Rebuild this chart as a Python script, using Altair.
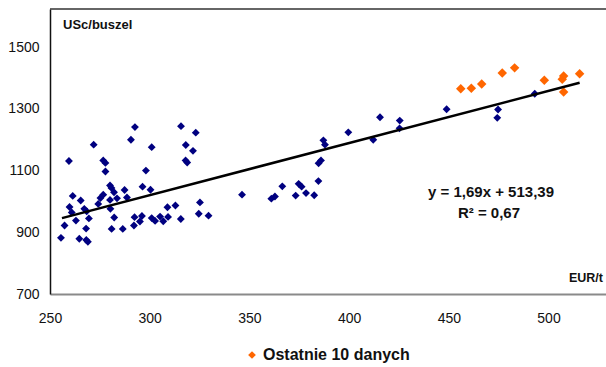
import altair as alt
import pandas as pd

# Historical observations (EUR/t vs USc/buszel)
hist_x = [292.6, 315.7, 323.1, 290.6, 271.9, 301.0, 318.1, 321.7, 259.5, 276.7,
          277.8, 318.0, 318.8, 277.8, 298.1, 280.1, 280.8, 287.4, 296.4, 300.4,
          276.7, 282.1, 275.3, 261.4, 265.4, 280.1, 283.6, 288.6, 274.2, 325.2,
          259.8, 267.2, 268.4, 260.9, 280.3, 269.5, 263.0, 282.2, 308.9, 312.9,
          324.6, 329.5, 257.3, 268.1, 280.9, 286.5, 292.4, 292.1, 295.1, 296.1,
          301.0, 302.7, 305.2, 306.8, 309.2, 315.6, 255.5, 264.7, 268.2, 269.0,
          346.3, 361.0, 362.8, 366.5, 373.2, 374.7, 376.2, 378.4, 382.5, 384.6,
          384.7, 385.9, 387.1, 387.9, 399.6, 412.1, 415.5, 425.4, 425.3, 448.9,
          474.7, 474.3, 493.1]
hist_y = [1241, 1244, 1223, 1200, 1184, 1176, 1183, 1164, 1131, 1133,
          1125, 1133, 1126, 1097, 1100, 1052, 1044, 1037, 1048, 1038,
          1022, 1030, 1011, 1018, 1003, 1005, 1010, 1013, 992, 997,
          982, 976, 968, 964, 976, 945, 938, 948, 981, 987,
          960, 954, 922, 912, 911, 911, 949, 922, 935, 953,
          946, 937, 951, 936, 950, 943, 882, 879, 875, 869,
          1022, 1009, 1016, 1049, 1019, 1057, 1048, 1027, 1020, 1066,
          1124, 1133, 1198, 1184, 1224, 1200, 1273, 1262, 1237, 1299,
          1298, 1271, 1349]

# Last 10 observations
last_x = [456.0, 461.3, 466.5, 476.8, 483.0, 497.9, 506.9, 507.6, 507.6, 515.6]
last_y = [1365, 1367, 1381, 1416, 1433, 1393, 1396, 1407, 1355, 1414]

# Trend line (equation from the chart): y = 1,69x + 513,39
slope = 1.69
intercept = 513.39
trend_x = [256, 515.6]

x_ticks = [250, 300, 350, 400, 450, 500]
y_ticks = [700, 900, 1100, 1300, 1500]

W, H = 556, 285
FONT = "Liberation Sans"

hist = pd.DataFrame({"x": hist_x, "y": hist_y})
last = pd.DataFrame({"x": last_x, "y": last_y})
trend = pd.DataFrame({"x": trend_x, "y": [slope * v + intercept for v in trend_x]})

xs = alt.Scale(domain=[250, 250 + W / 1.994], nice=False, zero=False)
ys = alt.Scale(domain=[700, 700 + H / 0.3085], nice=False, zero=False)

xenc = alt.X("x:Q", scale=xs, axis=alt.Axis(
    values=x_ticks, format="d", title=None, grid=False, ticks=False, labelPadding=17,
    labelFont=FONT, labelFontSize=14, labelColor="#111",
    domainColor="#8a8a8a", domainWidth=2, labelFlush=False))
yenc = alt.Y("y:Q", scale=ys, axis=alt.Axis(
    values=y_ticks, format="d", title=None, grid=False, ticks=False, labelPadding=11,
    labelFont=FONT, labelFontSize=14, labelColor="#111",
    domainColor="#111", domainWidth=1.5, labelFlush=False))

pts_hist = alt.Chart(hist).mark_point(
    shape="diamond", filled=True, size=62, color="#000080", opacity=1
).encode(x=xenc, y=yenc)

pts_last = alt.Chart(last).mark_point(
    shape="diamond", filled=True, size=90, color="#FF6600", opacity=1
).encode(x="x:Q", y="y:Q")

line = alt.Chart(trend).mark_line(color="black", strokeWidth=2.5).encode(
    x="x:Q", y="y:Q")

top_border = alt.Chart(pd.DataFrame({"a": [0]})).mark_rule(
    color="#333", strokeWidth=1.5
).encode(x=alt.value(0), x2=alt.value(W), y=alt.value(0))

labels = pd.DataFrame({
    "t": ["USc/buszel", "EUR/t", "y = 1,69x + 513,39", "R² = 0,67"],
    "px": [13, 553, 441, 439],
    "py": [16, 269, 183, 204],
    "al": ["left", "right", "center", "center"],
    "fs": [13, 12.5, 15, 15],
})
texts = []
for i, r in labels.iterrows():
    texts.append(alt.Chart(pd.DataFrame({"t": [r.t]})).mark_text(
        font=FONT, fontSize=float(r.fs), fontWeight="bold", color="#111",
        align=r.al, baseline="middle"
    ).encode(text="t:N", x=alt.value(r.px), y=alt.value(r.py)))

leg_pt = alt.Chart(pd.DataFrame({"a": [0]})).mark_point(
    shape="diamond", filled=True, size=60, color="#FF6600", opacity=1
).encode(x=alt.value(202), y=alt.value(346))
leg_txt = alt.Chart(pd.DataFrame({"t": ["Ostatnie 10 danych"]})).mark_text(
    font=FONT, fontSize=16, fontWeight="bold", color="#111", align="left",
    baseline="middle"
).encode(text="t:N", x=alt.value(213), y=alt.value(346))

chart = alt.layer(pts_hist, pts_last, line, top_border, *texts, leg_pt, leg_txt).properties(
    width=W, height=H,
    autosize=alt.AutoSizeParams(type="none"),
    padding={"left": 50, "top": 9, "right": 0, "bottom": 73},
    background="white",
).configure_view(stroke=None)

chart.save("out.html", embed_options={"renderer": "svg", "actions": False})
